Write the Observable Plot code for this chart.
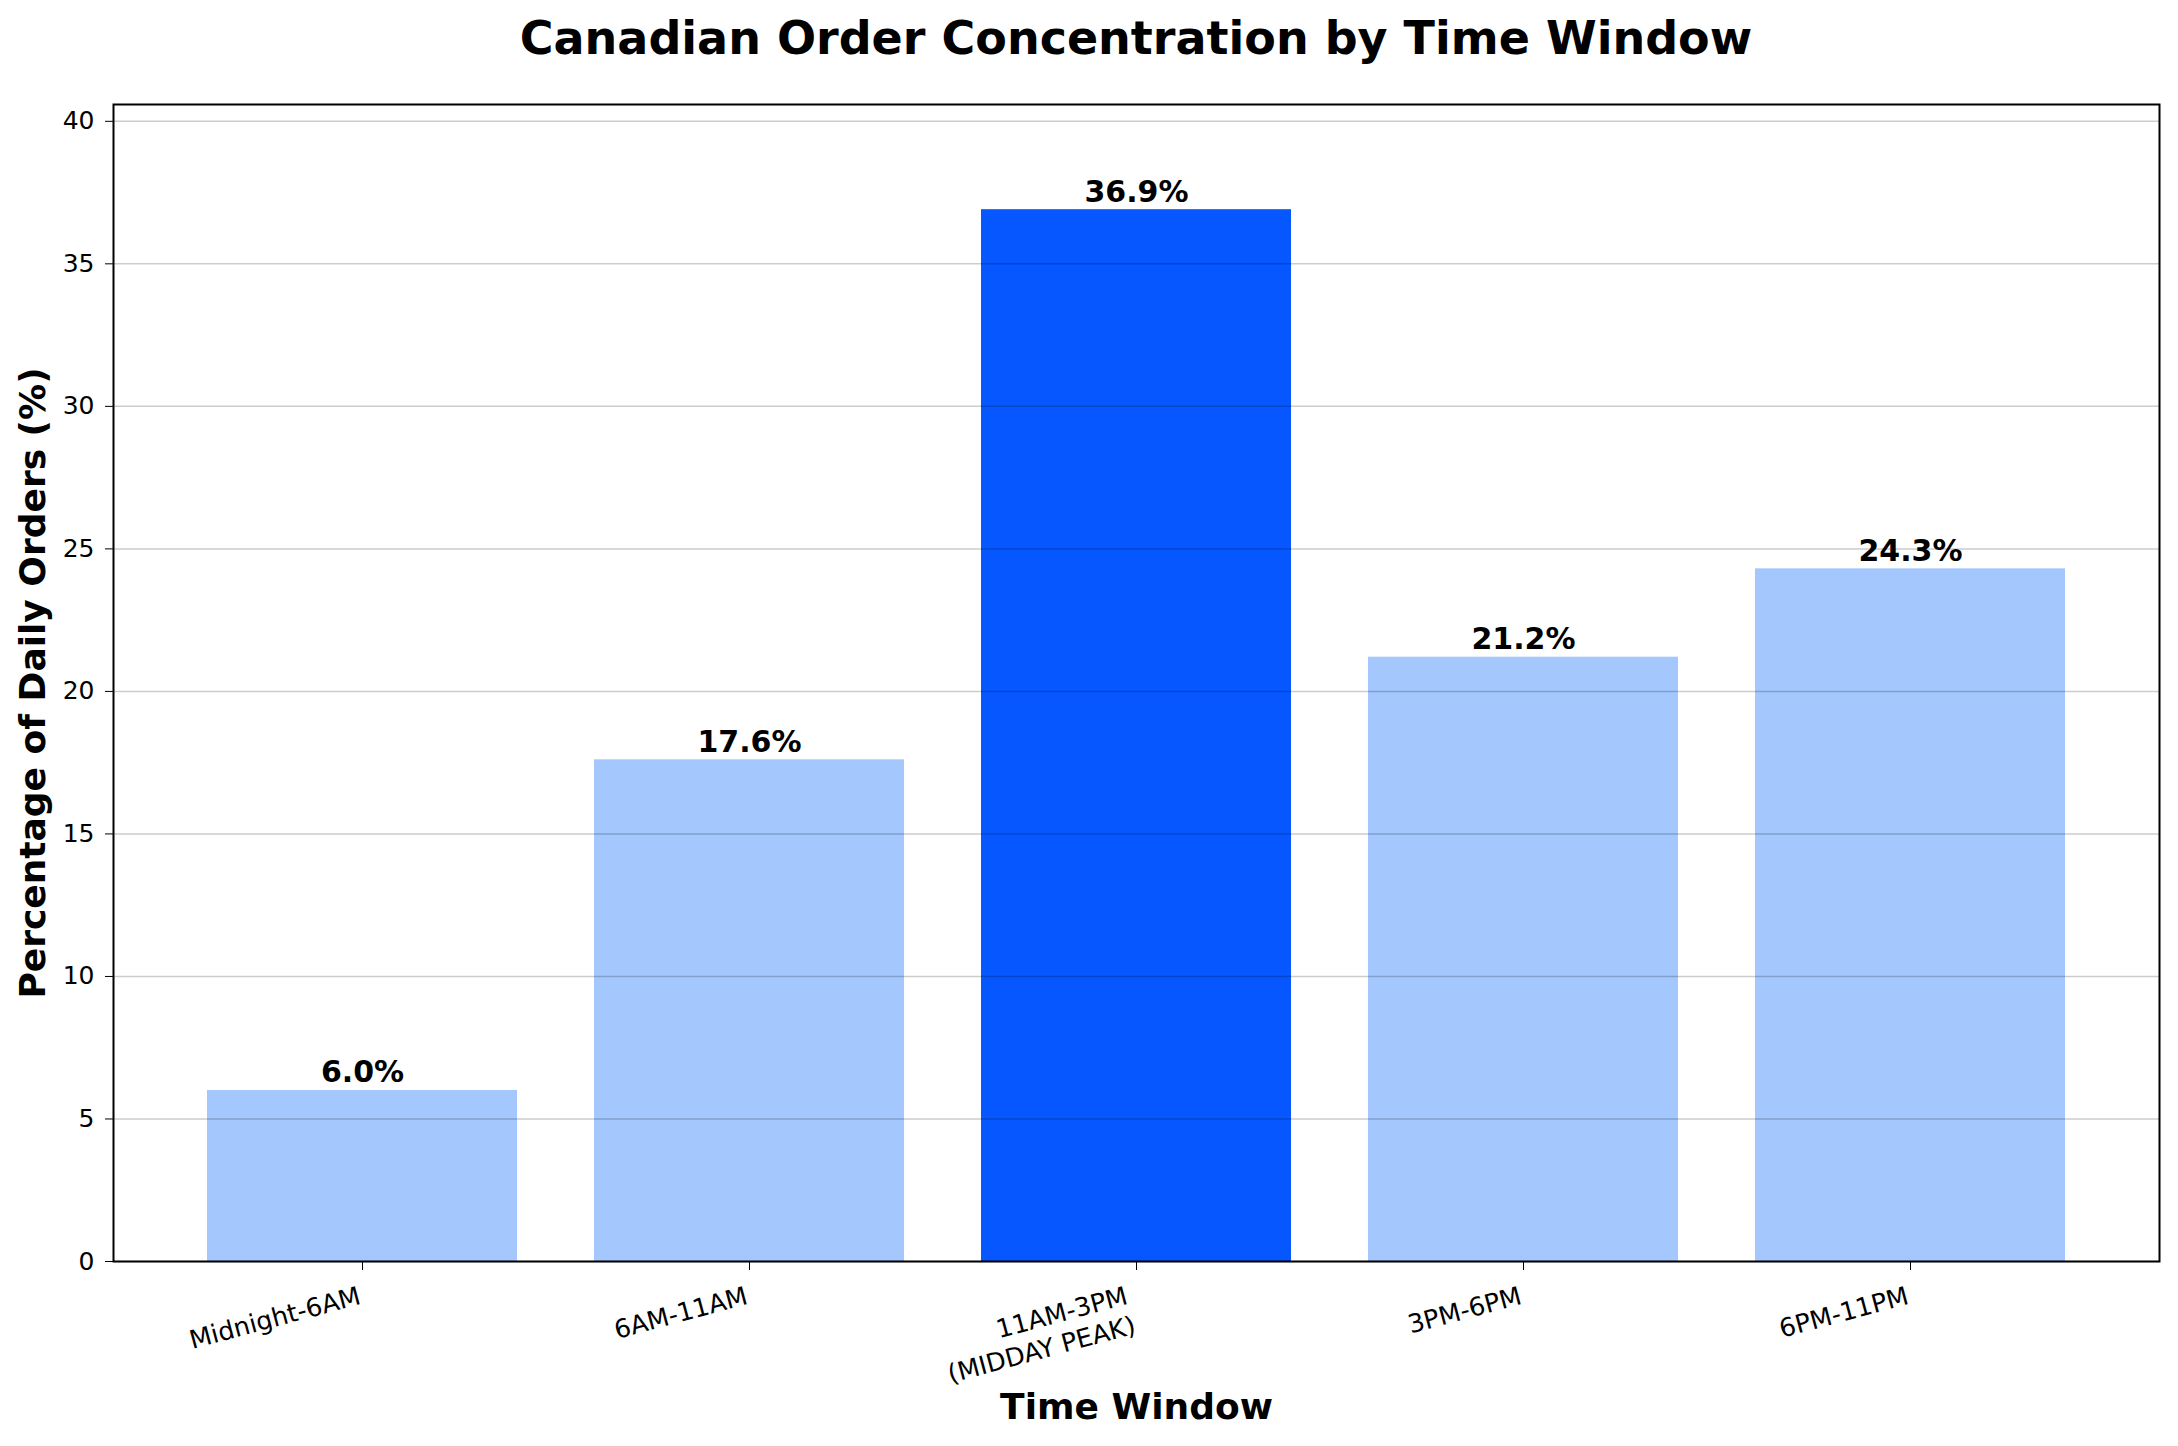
<!DOCTYPE html>
<html>
<head>
<meta charset="utf-8">
<script src="https://cdn.jsdelivr.net/npm/d3@7"></script>
<script src="https://cdn.jsdelivr.net/npm/@observablehq/plot@0.6"></script>
<style>
  html, body { margin: 0; padding: 0; background: white; }
  #title {
    box-sizing: border-box;
    width: 2178px; height: 80px;
    padding-left: 113px; padding-right: 19px;
    text-align: center;
    font-family: "DejaVu Sans", sans-serif;
    font-weight: bold; font-size: 46px;
    line-height: 76px;
    color: black;
  }
</style>
</head>
<body>
<div id="title">Canadian Order Concentration by Time Window</div>
<div id="chart"></div>
<script>
const categories = ["Midnight-6AM", "6AM-11AM", "11AM-3PM\n(MIDDAY PEAK)", "3PM-6PM", "6PM-11PM"];
const values = [6.0, 17.6, 36.9, 21.2, 24.3];
const peakCategory = "11AM-3PM\n(MIDDAY PEAK)";
const yTicks = [0, 5, 10, 15, 20, 25, 30, 35, 40];
const yMax = 40.59;
const colorNormal = "#a4c7fe";
const colorPeak = "#0657ff";

const rows = categories.map((c, i) => ({cat: c, value: values[i], peak: c === peakCategory}));
const singleLine = categories.filter(c => !c.includes("\n"));
const multiLine = categories.filter(c => c.includes("\n"));

const tickLabelStyle = {frameAnchor: "bottom", textAnchor: "end", lineAnchor: "top", rotate: -15, fontSize: 25.5, lineHeight: 1.2, fill: "black", dy: 21};

const chart = Plot.plot({
  width: 2178,
  height: 1366,
  marginTop: 24,
  marginBottom: 185,
  marginLeft: 113,
  marginRight: 19,
  style: {fontFamily: "DejaVu Sans, sans-serif", fontSize: "25px", color: "black", background: "white"},
  x: {domain: categories, paddingInner: 0.2, paddingOuter: 0.24, label: null},
  y: {domain: [0, yMax], label: null},
  marks: [
    Plot.barY(rows, {x: "cat", y: "value", fill: d => d.peak ? colorPeak : colorNormal, inset: 0}),
    Plot.gridY(yTicks, {stroke: "black", strokeOpacity: 0.2, strokeWidth: 1.5}),
    Plot.axisY({ticks: yTicks, tickSize: 8, tickPadding: 11, fontSize: 25, label: null}),
    Plot.axisX({tickSize: 9, tickFormat: () => "", label: null}),
    Plot.text(singleLine, {x: d => d, text: d => d, ...tickLabelStyle, dx: -6}),
    Plot.text(multiLine, {x: d => d, text: d => d, ...tickLabelStyle, dx: -13}),
    Plot.frame({stroke: "black", strokeWidth: 2}),
    Plot.text(rows, {x: "cat", y: "value", text: d => d.value.toFixed(1) + "%", lineAnchor: "bottom", dy: -8, fontWeight: "bold", fontSize: 30, fill: "black"}),
    Plot.text(["Time Window"], {text: d => d, frameAnchor: "bottom", dy: 157, fontWeight: "bold", fontSize: 36, fill: "black"}),
    Plot.text(["Percentage of Daily Orders (%)"], {text: d => d, frameAnchor: "left", textAnchor: "middle", dx: -80, rotate: -90, fontWeight: "bold", fontSize: 36, fill: "black"})
  ]
});
document.getElementById("chart").appendChild(chart);
</script>
</body>
</html>
